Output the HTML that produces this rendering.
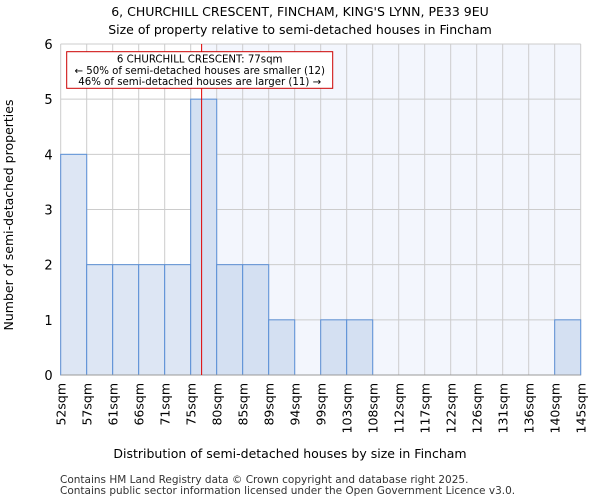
<!DOCTYPE html>
<html><head><meta charset="utf-8"><style>
body{margin:0;background:#fff;font-family:"DejaVu Sans","Liberation Sans",sans-serif}
</style></head><body>
<svg width="600" height="500" xmlns="http://www.w3.org/2000/svg" font-family="DejaVu Sans, Liberation Sans, sans-serif">
<text x="300" y="16" text-anchor="middle" font-size="12.5">6, CHURCHILL CRESCENT, FINCHAM, KING'S LYNN, PE33 9EU</text>
<text x="300" y="34" text-anchor="middle" font-size="12.5">Size of property relative to semi-detached houses in Fincham</text>
<g id="plot"></g>
<text x="290" y="458" text-anchor="middle" font-size="12.5">Distribution of semi-detached houses by size in Fincham</text>
<text transform="translate(13,215) rotate(-90)" text-anchor="middle" font-size="12.5">Number of semi-detached properties</text>
<text x="60" y="483" font-size="10.5" fill="#333">Contains HM Land Registry data © Crown copyright and database right 2025.</text>
<text x="60" y="494" font-size="10.5" fill="#333">Contains public sector information licensed under the Open Government Licence v3.0.</text>
</svg>
<script>
const binLabels=["52sqm","57sqm","61sqm","66sqm","71sqm","75sqm","80sqm","85sqm","89sqm","94sqm","99sqm","103sqm","108sqm","112sqm","117sqm","122sqm","126sqm","131sqm","136sqm","140sqm","145sqm"];
const counts=[4,2,2,2,2,5,2,2,1,0,1,1,0,0,0,0,0,0,0,1];
const yTicks=[0,1,2,3,4,5,6];
const markerBin=5.42;
const NS="http://www.w3.org/2000/svg";
const g=document.getElementById('plot');
const L=60.7,R=580.7,T=44,B=375,yMax=6;
const bw=(R-L)/counts.length;
const xs=i=>L+i*bw;
const ys=v=>B-(v/yMax)*(B-T);
function mk(tag,attrs){const e=document.createElementNS(NS,tag);for(const k in attrs)e.setAttribute(k,attrs[k]);g.appendChild(e);return e;}
const mx=xs(markerBin);
let e=mk('rect',{x:mx,y:T,width:R-mx,height:B-T,fill:'#f3f6fd'});


for(let i=0;i<binLabels.length;i++){e=mk('line',{x1:xs(i),x2:xs(i),y1:T,y2:B,stroke:'#cccccc','stroke-width':1});

}
yTicks.forEach(t=>{e=mk('line',{x1:L,x2:R,y1:ys(t),y2:ys(t),stroke:'#cccccc','stroke-width':1});


e=mk('text',{x:L-8,y:ys(t)+5,'text-anchor':'end','font-size':13});e.textContent=t;

});
counts.forEach((c,i)=>{if(c<=0)return;
e=mk('rect',{x:xs(i),y:ys(c),width:bw,height:ys(0)-ys(c),fill:(i+0.5<markerBin)?'#dde6f4':'#d4e0f2',stroke:'#5b8fd6','stroke-width':1});

});
binLabels.forEach((l,i)=>{const x=xs(i);e=mk('text',{transform:`translate(${x+5},${B+8}) rotate(-90)`,'text-anchor':'end','font-size':12.5});e.textContent=l;

});
e=mk('line',{x1:L,x2:R,y1:B,y2:B,stroke:'#999','stroke-width':1});


e=mk('line',{x1:mx,x2:mx,y1:T,y2:B,stroke:'#e00000','stroke-width':1});


e=mk('rect',{x:66.7,y:51.7,width:266,height:36.6,fill:'#fff',stroke:'#cc0000','stroke-width':1});


["6 CHURCHILL CRESCENT: 77sqm","← 50% of semi-detached houses are smaller (12)","46% of semi-detached houses are larger (11) →"].forEach((s,k)=>{
e=mk('text',{x:199.7,y:62.5+k*11.3,'text-anchor':'middle','font-size':10.2});e.textContent=s;

});
</script>
</body></html>
